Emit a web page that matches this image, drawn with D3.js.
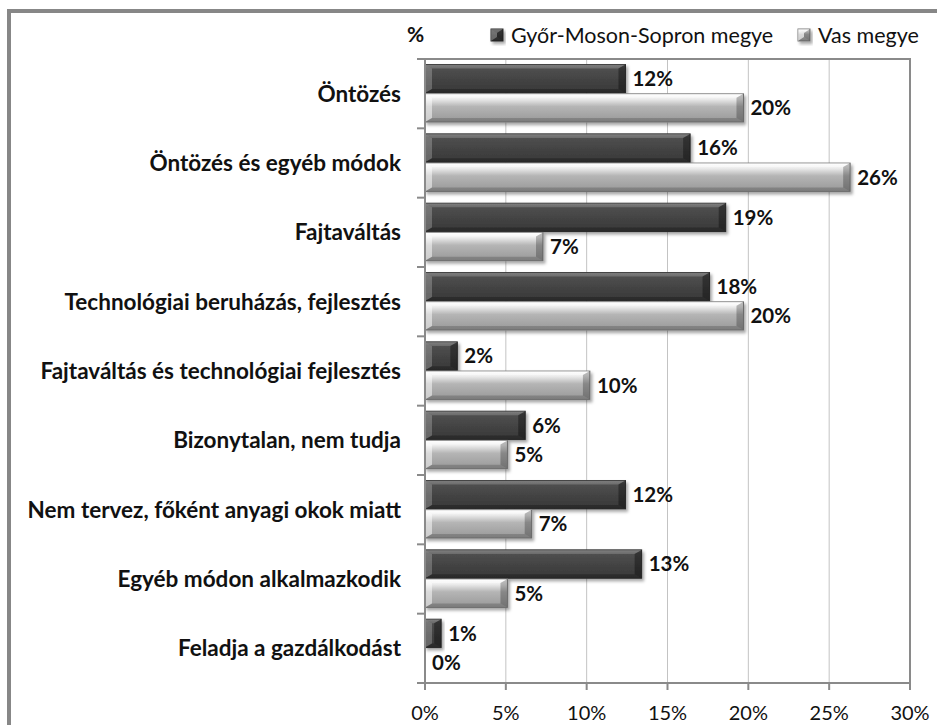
<!DOCTYPE html>
<html>
<head>
<meta charset="utf-8">
<script src="https://cdn.jsdelivr.net/npm/d3@7.9.0/dist/d3.min.js"></script>
<style>
  body { margin: 0; background: #fff; }
  svg { display: block; font-family: Lato, "Open Sans", sans-serif; }
</style>
</head>
<body>
<svg id="chart" width="937" height="725"></svg>
<script>
const categories = [
  'Öntözés',
  'Öntözés és egyéb módok',
  'Fajtaváltás',
  'Technológiai beruházás, fejlesztés',
  'Fajtaváltás és technológiai fejlesztés',
  'Bizonytalan, nem tudja',
  'Nem tervez, főként anyagi okok miatt',
  'Egyéb módon alkalmazkodik',
  'Feladja a gazdálkodást'
];
const seriesNames = ['Győr-Moson-Sopron megye', 'Vas megye'];
const gyorValues = [12.4, 16.4, 18.6, 17.6, 2.0, 6.2, 12.4, 13.4, 1.0];
const vasValues = [19.7, 26.3, 7.3, 19.7, 10.2, 5.1, 6.6, 5.1, 0.0];
const xTicks = [0, 5, 10, 15, 20, 25, 30];

const svg = d3.select('#chart');
const plotLeft = 425, plotRight = 910, plotTop = 59, plotBottom = 683;

const x = d3.scaleLinear().domain([0, 30]).range([plotLeft, plotRight]);
const y = d3.scaleBand().domain(categories).range([plotTop, plotBottom]);
const ySub = d3.scaleBand().domain(seriesNames)
  .range([y.bandwidth() * 0.08, y.bandwidth() * 0.91]).paddingInner(0.03);

// outer frame (runs off the picture on the right and bottom)
svg.append('path')
  .attr('d', 'M9,740 L9,11 L950,11')
  .attr('fill', 'none').attr('stroke', '#878787').attr('stroke-width', 4);

const defs = svg.append('defs');
const shadow = defs.append('filter').attr('id', 'shadow')
  .attr('x', '-20%').attr('y', '-40%').attr('width', '140%').attr('height', '180%');
shadow.append('feDropShadow').attr('dx', 2).attr('dy', 2.5)
  .attr('stdDeviation', 1.8).attr('flood-color', '#000').attr('flood-opacity', 0.35);

function grad(id, stops) {
  const g = defs.append('linearGradient').attr('id', id)
    .attr('x1', 0).attr('y1', 0).attr('x2', 0).attr('y2', 1);
  stops.forEach(([o, c]) => g.append('stop').attr('offset', o).attr('stop-color', c));
}
grad('gDark', [[0, '#666'], [0.12, '#505050'], [0.5, '#444'], [1, '#383838']]);
grad('gLight', [[0, '#ffffff'], [0.18, '#ececec'], [0.45, '#b5b5b5'], [1, '#989898']]);

const styles = {
  'Győr-Moson-Sopron megye': { fill: 'url(#gDark)', stroke: '#2e2e2e', hi: 0.22, lo: 0.35 },
  'Vas megye': { fill: 'url(#gLight)', stroke: '#7a7a7a', hi: 0.5, lo: 0.25 }
};

// gridlines
svg.append('g').selectAll('line').data(xTicks.slice(1, -1)).join('line')
  .attr('x1', d => x(d)).attr('x2', d => x(d))
  .attr('y1', plotTop).attr('y2', plotBottom)
  .attr('stroke', '#c3c3c3').attr('stroke-width', 1);

// plot border top and right
svg.append('path')
  .attr('d', `M${plotLeft - 8},${plotTop} H${plotRight} V${plotBottom}`)
  .attr('fill', 'none').attr('stroke', '#8a8a8a').attr('stroke-width', 2);

function bevelBar(g, x0, y0, w, h, st) {
  if (w < 0.5) return;
  const bx = Math.min(7, w / 2), by = Math.min(4, h / 2);
  g.append('rect').attr('x', x0).attr('y', y0).attr('width', w).attr('height', h)
    .attr('fill', st.fill).attr('stroke', st.stroke).attr('stroke-width', 1)
    .attr('filter', 'url(#shadow)');
  const x1 = x0 + w, y1 = y0 + h;
  // top bevel
  g.append('polygon')
    .attr('points', [[x0, y0], [x1, y0], [x1 - bx, y0 + by], [x0 + bx, y0 + by]].join(' '))
    .attr('fill', '#fff').attr('opacity', st.hi * 0.8);
  // left bevel
  g.append('polygon')
    .attr('points', [[x0, y0], [x0 + bx, y0 + by], [x0 + bx, y1 - by], [x0, y1]].join(' '))
    .attr('fill', '#fff').attr('opacity', st.hi);
  // right bevel
  g.append('polygon')
    .attr('points', [[x1, y0], [x1, y1], [x1 - bx, y1 - by], [x1 - bx, y0 + by]].join(' '))
    .attr('fill', '#000').attr('opacity', st.lo);
  // bottom bevel
  g.append('polygon')
    .attr('points', [[x0, y1], [x0 + bx, y1 - by], [x1 - bx, y1 - by], [x1, y1]].join(' '))
    .attr('fill', '#000').attr('opacity', st.lo * 0.7);
}

const bars = svg.append('g');
const labels = svg.append('g').attr('font-weight', 'bold').attr('font-size', 20.5).attr('fill', '#111');

categories.forEach((c, i) => {
  [[seriesNames[0], gyorValues[i]], [seriesNames[1], vasValues[i]]].forEach(([s, v]) => {
    const by = y(c) + ySub(s);
    bevelBar(bars, x(0), by, x(v) - x(0), ySub.bandwidth(), styles[s]);
    labels.append('text')
      .attr('x', x(v) + 7).attr('y', by + ySub.bandwidth() / 2)
      .attr('dy', '0.36em')
      .text(d3.format('.0f')(v) + '%');
  });
});

// left axis line and ticks
const axisG = svg.append('g').attr('stroke', '#8a8a8a').attr('stroke-width', 2);
axisG.append('line').attr('x1', plotLeft).attr('x2', plotLeft).attr('y1', plotTop).attr('y2', plotBottom + 7);
axisG.selectAll('.yt').data(d3.range(categories.length + 1)).join('line')
  .attr('x1', plotLeft - 8).attr('x2', plotLeft)
  .attr('y1', i => plotTop + i * y.step()).attr('y2', i => plotTop + i * y.step());

// bottom axis
axisG.append('line').attr('x1', plotLeft - 8).attr('x2', plotRight).attr('y1', plotBottom).attr('y2', plotBottom);
axisG.selectAll('.xt').data(xTicks).join('line')
  .attr('x1', d => x(d)).attr('x2', d => x(d))
  .attr('y1', plotBottom).attr('y2', plotBottom + 7);

svg.append('g').attr('font-size', 20).attr('fill', '#111').attr('text-anchor', 'middle')
  .selectAll('text').data(xTicks).join('text')
  .attr('x', d => x(d)).attr('y', plotBottom + 37)
  .text(d => d + '%');

// category labels
svg.append('g').attr('font-size', 22.5).attr('font-weight', 'bold').attr('fill', '#111')
  .attr('text-anchor', 'end')
  .selectAll('text').data(categories).join('text')
  .attr('x', 401).attr('y', d => y(d) + y.bandwidth() / 2).attr('dy', '0.36em')
  .text(d => d);

// unit label
svg.append('text').attr('x', 407).attr('y', 42).attr('font-size', 21)
  .attr('font-weight', 'bold').attr('fill', '#111').text('%');

// legend
const legendX = [491, 798];
seriesNames.forEach((s, i) => {
  const g = svg.append('g');
  bevelBar(g, legendX[i], 29, 12, 12, styles[s]);
  svg.append('text').attr('x', legendX[i] + 20).attr('y', 35).attr('dy', '0.36em')
    .attr('font-size', 21.5).attr('fill', '#111').text(s);
});
</script>
</body>
</html>
